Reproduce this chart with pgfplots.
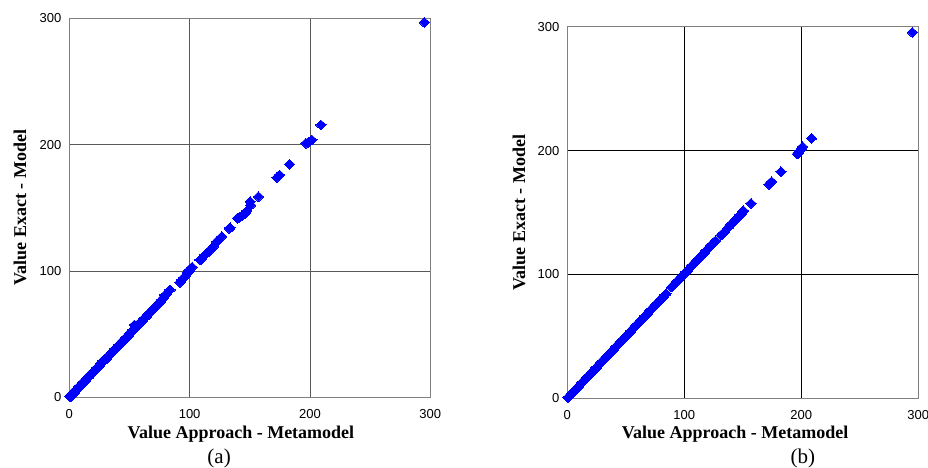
\documentclass[border=0pt]{standalone}
\usepackage{pgfplots}
\pgfplotsset{compat=1.18}
\usepackage{fontspec}
\setmainfont{Liberation Serif}
\newfontfamily\arial{Liberation Sans}
\definecolor{framegray}{RGB}{128,128,128}
\definecolor{ptblue}{RGB}{0,0,255}
\pgfplotsset{
  myaxis/.style={
    scale only axis,
    anchor=south west,
    xmin=0, xmax=300, ymin=0, ymax=300,
    xtick={0,100,200,300}, ytick={0,100,200,300},
    major tick length=0pt,
    grid=major,
    axis line style={draw=framegray, line width=1pt},
    /pgf/number format/assume math mode=true,
    every tick label/.append style={font=\arial\fontsize{13}{15}\selectfont, inner sep=0pt},
    xticklabel style={yshift=-11.5pt},
    yticklabel style={xshift=-7.8pt},
    clip=false,
  },
  mymarks/.style={only marks, mark=diamond*, mark size=4.9pt,
    mark options={xscale=1.4, fill=ptblue, draw=ptblue, line width=0pt}},
}
\begin{document}
\begin{tikzpicture}[x=1pt,y=1pt]
\useasboundingbox (0,0) rectangle (928,468);
% ---------------- (a) ----------------
\begin{axis}[myaxis, at={(69.3pt,70.7pt)}, width=361pt, height=379pt,
  grid style={draw=black!65, line width=0.9pt}]
\addplot[mymarks] coordinates {
(0.5,0.8) (1,1.5) (1.5,0.7) (2,2.6) (2.5,1.9) (3,3.2) (4,3.5) (5,5.6) (6,6.2) (7,6.6)
(8,8.5) (9,9.3) (10,9.8) (11,11.6) (12,12.3) (13,12.7) (14,14.6) (15,15.2) (16,15.8)
(17,17.6) (18,18.4) (19,18.8) (20,20.5) (21,21.3) (22,21.7) (23,23.5) (24,24.2) (25,24.8)
(26,26.6) (27,27.3) (28,28.8) (29,29.9) (30,30.2) (31,30.7) (32,32.4) (33,33.1) (34,33.8)
(35,35.5) (36,36.2) (37,36.9) (38,38.5) (39,39.1) (40,39.8) (41,41.4) (42,42.0) (43,42.8)
(44,44.4) (45,45.1) (46,45.8) (47,47.3) (48,48.1) (49,48.7) (50,50.4) (51,51.2) (52,51.8)
(53,53.3) (54.1,57.3) (54,54.3) (55,54.8) (56,56.4) (57,57.2) (58,57.9) (59,59.4) (60,60.2)
(61,60.9) (62,62.3) (63,63.1) (64,63.8) (65,65.4) (66,66.1) (67,66.9) (68,68.2) (69,69.1)
(70,69.8) (71,71.3) (72,72.2) (73,72.8) (74,74.3) (75,75.1) (76,75.9) (77,77.2) (78,78.6)
(79.6,81) (81,82) (83.7,85)
(92,91) (93.4,92.9) (95,94.5) (96.5,96) (98,98.5) (99.5,100) (100.4,101.5) (102,103)
(108.7,108.7) (110,110) (112.8,112.7) (115.6,115.3) (118.4,117.9) (119.8,119.3)
(122.5,123.2) (124,124.5) (126.7,127.2)
(133,133.5) (133.6,134.3)
(139.7,141.7) (141.4,142.5) (143.3,143.5) (146.1,145.7) (147.5,147.5)
(150.3,154.9) (150.8,152) (157.2,158.8)
(172.5,173.9) (174.7,176) (183,184.4)
(196.6,201.1) (199,202) (201.6,203.7) (209.1,215.6) (295,296.8)
};
\node[font=\bfseries\fontsize{18}{20}\selectfont, anchor=base] at ([yshift=-41pt]rel axis cs:0.4756,0) {Value Approach - Metamodel};
\node[font=\fontsize{21}{24}\selectfont, anchor=base] at ([yshift=-65.7pt]rel axis cs:0.415,0) {(a)};
\node[font=\bfseries\fontsize{18}{20}\selectfont, rotate=90, anchor=center] at ([xshift=-49.3pt]rel axis cs:0,0.5) {Value Exact - Model};
\end{axis}
% ---------------- (b) ----------------
\begin{axis}[myaxis, at={(567.3pt,69.7pt)}, width=351pt, height=371.6pt,
  grid style={draw=black, line width=0.8pt}]
\addplot[mymarks] coordinates {
(0.5,0.5) (1.5,1.5) (2.5,2.5) (3.5,3.5) (4.5,4.5) (5.5,5.5) (6.5,6.5) (7.5,7.5) (8.5,8.5) (9.5,9.5)
(10.5,10.5) (11.5,11.5) (12.5,12.5) (13.5,13.5) (14.5,14.5) (15.5,15.5) (16.5,16.5) (17.5,17.5)
(18.5,18.5) (19.5,19.5) (20.5,20.5) (21.5,21.5) (22.5,22.5) (23.5,23.5) (24.5,24.5) (25.5,25.5)
(26.5,26.5) (27.5,27.5) (28.5,28.5) (29.5,29.5) (30.5,30.5) (31.5,31.5) (32.5,32.5) (33.5,33.5)
(34.5,34.5) (35.5,35.5) (36.5,36.5) (37.5,37.5) (38.5,38.5) (39.5,39.5) (40.5,40.5) (41.5,41.5)
(42.5,42.5) (43.5,43.5) (44.5,44.5) (45.5,45.5) (46.5,46.5) (47.5,47.5) (48.5,48.5) (49.5,49.5)
(50.5,50.5) (51.5,51.5) (52.5,52.5) (53.5,53.5) (54.5,54.5) (55.5,55.5) (56.5,56.5) (57.5,57.5)
(58.5,58.5) (59.5,59.5) (60.5,60.5) (61.5,61.5) (62.5,62.5) (63.5,63.5) (64.5,64.5) (65.5,65.5)
(66.5,66.5) (67.5,67.5) (68.5,68.5) (69.5,69.5) (70.5,70.5) (71.5,71.5) (72.5,72.5) (73.5,73.5)
(74.5,74.5) (75.5,75.5) (76.5,76.5) (77.5,77.5) (78.5,78.5) (79.5,79.5) (80.5,80.5) (81.5,81.5)
(82.5,82.5) (83.5,83.5) (84.5,84.5)
(89.2,89.8) (90.5,91) (91.5,92) (92.5,93) (93.5,94) (94.5,95) (95.5,96) (96.5,97) (97.5,98)
(98.5,99) (99.5,100) (100.5,101) (101.5,102) (102.5,103)
(106.5,107) (107.5,108) (108.5,109) (109.5,110) (110.5,111) (111.5,112) (112.5,113) (113.5,114)
(114.5,115) (115.5,116) (116.5,117) (117.5,118) (118.5,119) (119.5,120) (120.5,121) (121.5,122)
(122.5,123) (123.5,124) (124.5,125) (125.5,126) (126.7,127.2)
(131.5,131.8) (132.7,132.8) (133.9,133.7)
(137.6,137.8) (138.6,139) (139.6,140) (140.6,141) (141.6,142) (142.6,143) (143.6,144) (144.6,145)
(145.6,146) (146.6,147) (147.6,148) (148.6,149) (149.6,150.5) (150.4,151.5)
(157,157.4)
(172.4,172.7) (173.5,173.8) (174.6,174.9)
(182.6,183)
(196.6,197.2) (197.8,198.6) (199,200) (200,201.5) (201.1,203.1)
(208.8,209.9) (294.9,295.4)
};
\node[font=\bfseries\fontsize{18}{20}\selectfont, anchor=base] at ([yshift=-40pt]rel axis cs:0.478,0) {Value Approach - Metamodel};
\node[font=\fontsize{21}{24}\selectfont, anchor=base] at ([yshift=-65pt]rel axis cs:0.671,0) {(b)};
\node[font=\bfseries\fontsize{18}{20}\selectfont, rotate=90, anchor=center] at ([xshift=-48.3pt]rel axis cs:0,0.5) {Value Exact - Model};
\end{axis}
\end{tikzpicture}
\end{document}
